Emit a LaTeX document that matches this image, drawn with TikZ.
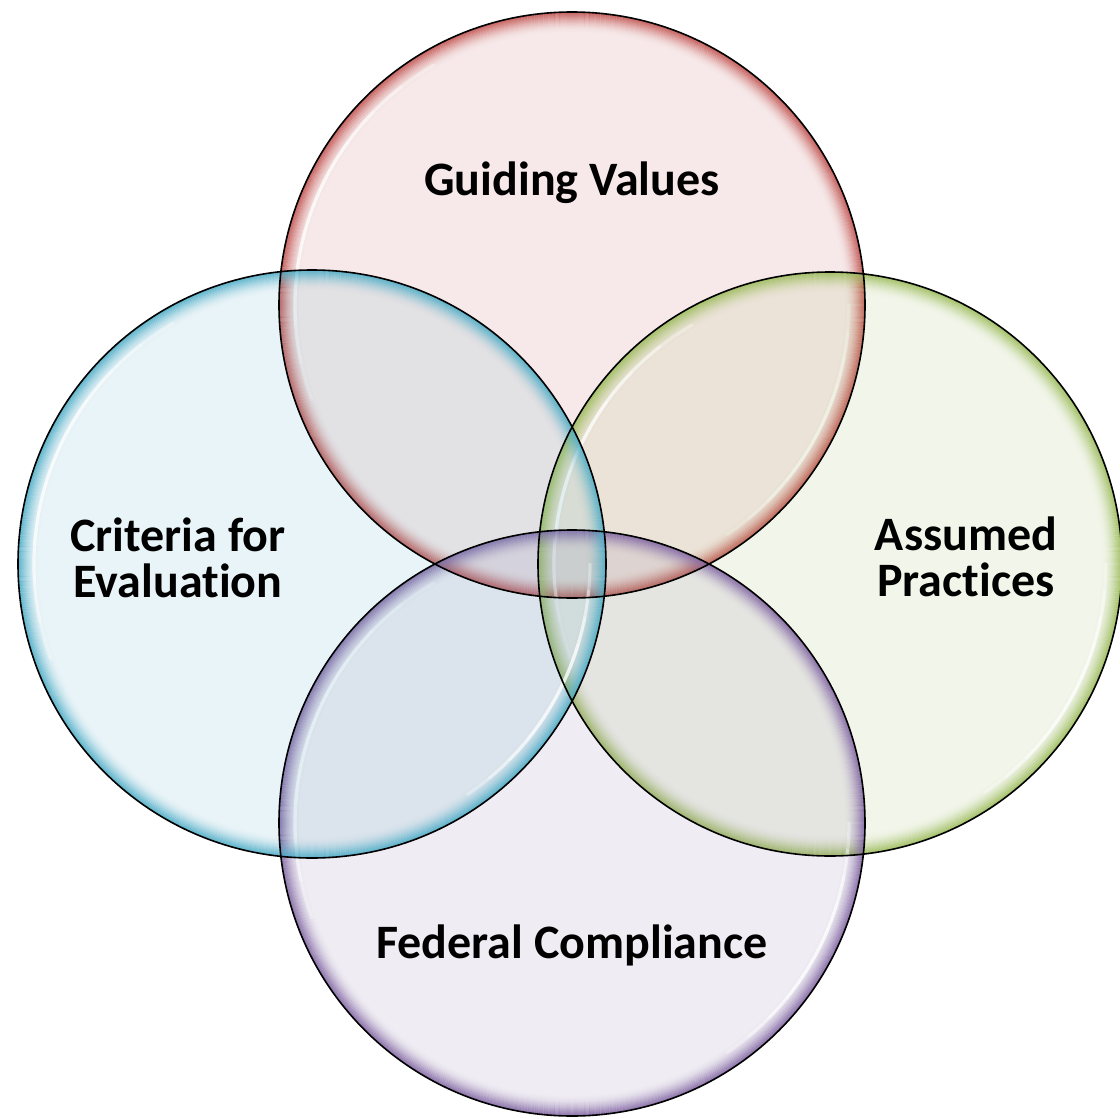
\documentclass[tikz,border=0pt]{standalone}
\usepackage{fontspec}
\setmainfont{Carlito}[RawFeature={-liga;-clig;-dlig;-calt}]
\definecolor{cred}{HTML}{C0504D}
\definecolor{cblue}{HTML}{4BACC6}
\definecolor{cgreen}{HTML}{9BBB59}
\definecolor{cpurple}{HTML}{8064A2}
\tikzset{
  lbl/.style={font=\fontsize{48}{46}\selectfont\bfseries, text=black, align=center, inner sep=0pt},
  rimline/.style={line width=1.3pt},
  outline/.style={draw=black, line width=1.6pt},
  shine/.style={white, line width=3.2pt, opacity=0.32, line cap=round},
}
% #1 center x, #2 center y, #3 radius (pt), #4 colour
\newcommand\bubblefill[4]{%
  \fill[#4, fill opacity=0.12] (#1,#2) circle (#3 pt);
  \foreach \k in {0,...,19}{%
    \pgfmathsetmacro\op{0.8*(1-\k/20)^2}%
    \pgfmathsetmacro\rr{#3-\k-0.6}%
    \draw[#4, rimline, opacity=\op] (#1,#2) circle (\rr pt);
  }%
  \pgfmathsetmacro\hr{#3-16}%
  \foreach \f in {1,0.8,0.6,0.4}{%
    \draw[shine] (#1,#2) ++({160-\f*40}:\hr pt) arc[start angle={160-\f*40}, end angle={160+\f*40}, radius=\hr pt];
    \draw[shine] (#1,#2) ++({-28-\f*28}:\hr pt) arc[start angle={-28-\f*28}, end angle={-28+\f*28}, radius=\hr pt];
  }%
}
\newcommand\bubbleline[3]{%
  \draw[outline] (#1,#2) circle (#3 pt);
}
\begin{document}
\begin{tikzpicture}[x=1pt,y=-1pt]
  \useasboundingbox (0,0) rectangle (1120,1119);
  \fill[white] (0,0) rectangle (1120,1119);
  % circles
  \bubblefill{572}{305}{293}{cred}
  \bubblefill{830}{564}{292}{cgreen}
  \bubblefill{572}{823}{293}{cpurple}
  \bubblefill{312}{564}{294}{cblue}
  \bubbleline{572}{305}{293}
  \bubbleline{830}{564}{292}
  \bubbleline{572}{823}{293}
  \bubbleline{312}{564}{294}
  % labels (base anchor = baseline of last line)
  \node[lbl, anchor=base] (gv) at (572,195) {Guiding Values};
  \node[lbl, anchor=base] (ce) at (178,597) {Criteria for\\Evaluation};
  \node[lbl, anchor=base] (ap) at (966,596) {Assumed\\Practices};
  \node[lbl, anchor=base] (fc) at (572,958) {Federal Compliance};
\end{tikzpicture}
\end{document}
